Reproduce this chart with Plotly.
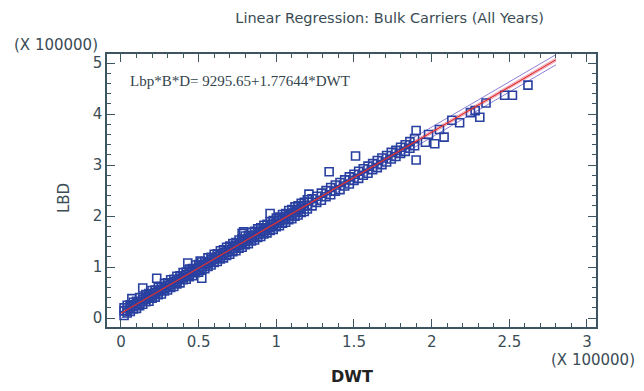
import plotly.graph_objects as go

# values in units of 100000
dwt = [
    0.02, 0.02, 0.02, 0.04, 0.04, 0.04, 0.06, 0.06, 0.06, 0.08, 0.08, 0.08,
    0.10, 0.10, 0.10, 0.12, 0.12, 0.12, 0.14, 0.14, 0.14, 0.16, 0.16, 0.16,
    0.18, 0.18, 0.18, 0.20, 0.20, 0.20, 0.22, 0.22, 0.22, 0.24, 0.24, 0.24,
    0.26, 0.26, 0.26, 0.28, 0.28, 0.28, 0.30, 0.30, 0.30, 0.32, 0.32, 0.32,
    0.34, 0.34, 0.34, 0.36, 0.36, 0.36, 0.38, 0.38, 0.38, 0.40, 0.40, 0.40,
    0.42, 0.42, 0.42, 0.44, 0.44, 0.44, 0.46, 0.46, 0.46, 0.48, 0.48, 0.48,
    0.50, 0.50, 0.50, 0.52, 0.52, 0.52, 0.54, 0.54, 0.54, 0.56, 0.56, 0.56,
    0.58, 0.58, 0.58, 0.60, 0.60, 0.60, 0.62, 0.62, 0.62, 0.64, 0.64, 0.64,
    0.66, 0.66, 0.66, 0.68, 0.68, 0.68, 0.70, 0.70, 0.70, 0.72, 0.72, 0.72,
    0.74, 0.74, 0.74, 0.76, 0.76, 0.76, 0.78, 0.78, 0.78, 0.80, 0.80, 0.80,
    0.82, 0.82, 0.82, 0.84, 0.84, 0.84, 0.86, 0.86, 0.86, 0.88, 0.88, 0.88,
    0.90, 0.90, 0.90, 0.92, 0.92, 0.92, 0.94, 0.94, 0.94, 0.96, 0.96, 0.96,
    0.98, 0.98, 0.98, 1.00, 1.00, 1.00, 1.02, 1.02, 1.02, 1.04, 1.04, 1.04,
    1.06, 1.06, 1.06, 1.08, 1.08, 1.08, 1.10, 1.10, 1.10, 1.12, 1.12, 1.12,
    1.14, 1.14, 1.14, 1.16, 1.16, 1.16, 1.18, 1.18, 1.18, 1.20, 1.20, 1.20,
    1.23, 1.23, 1.26, 1.26, 1.29, 1.29, 1.32, 1.32, 1.35, 1.35, 1.38, 1.38,
    1.41, 1.41, 1.44, 1.44, 1.47, 1.47, 1.50, 1.50, 1.53, 1.53, 1.56, 1.56,
    1.59, 1.59, 1.62, 1.62, 1.65, 1.65, 1.68, 1.68, 1.71, 1.71, 1.74, 1.74,
    1.77, 1.77, 1.80, 1.80, 1.83, 1.83, 1.86, 1.86, 1.89, 1.89,
    0.07, 0.14, 0.23, 0.52, 0.43, 0.51, 0.78, 0.96, 0.79, 1.21, 1.34, 1.51,
    1.90, 1.90, 1.96, 2.02, 2.08, 2.13, 2.18, 2.25, 2.28, 2.31, 2.35, 2.47,
    2.52, 2.62, 1.98, 2.05,
]
lbd = [
    0.05, 0.14, 0.20, 0.10, 0.15, 0.25, 0.13, 0.22, 0.26, 0.18, 0.23, 0.31,
    0.19, 0.28, 0.33, 0.24, 0.29, 0.40, 0.27, 0.36, 0.40, 0.32, 0.37, 0.46,
    0.33, 0.42, 0.48, 0.39, 0.44, 0.54, 0.41, 0.50, 0.55, 0.46, 0.51, 0.60,
    0.47, 0.56, 0.62, 0.53, 0.58, 0.68, 0.55, 0.64, 0.69, 0.60, 0.65, 0.75,
    0.62, 0.71, 0.76, 0.67, 0.72, 0.82, 0.69, 0.78, 0.83, 0.75, 0.79, 0.89,
    0.76, 0.85, 0.90, 0.81, 0.86, 0.96, 0.83, 0.92, 0.97, 0.89, 0.93, 1.04,
    0.90, 0.99, 1.05, 0.95, 1.00, 1.10, 0.97, 1.06, 1.11, 1.01, 1.07, 1.18,
    1.04, 1.14, 1.19, 1.09, 1.15, 1.25, 1.11, 1.21, 1.26, 1.16, 1.22, 1.32,
    1.18, 1.28, 1.34, 1.23, 1.29, 1.39, 1.25, 1.35, 1.41, 1.30, 1.36, 1.46,
    1.32, 1.42, 1.48, 1.37, 1.43, 1.53, 1.39, 1.49, 1.55, 1.44, 1.50, 1.61,
    1.46, 1.56, 1.62, 1.51, 1.57, 1.68, 1.53, 1.63, 1.70, 1.58, 1.64, 1.75,
    1.60, 1.70, 1.77, 1.65, 1.71, 1.82, 1.67, 1.77, 1.84, 1.72, 1.78, 1.89,
    1.74, 1.84, 1.91, 1.79, 1.85, 1.96, 1.81, 1.92, 1.98, 1.86, 1.93, 2.03,
    1.88, 1.99, 2.05, 1.93, 2.00, 2.11, 1.95, 2.06, 2.13, 2.00, 2.07, 2.18,
    2.02, 2.13, 2.20, 2.07, 2.14, 2.25, 2.09, 2.20, 2.27, 2.14, 2.21, 2.32,
    2.20, 2.34, 2.27, 2.39, 2.31, 2.45, 2.38, 2.50, 2.42, 2.56, 2.49, 2.61,
    2.52, 2.66, 2.59, 2.71, 2.63, 2.77, 2.70, 2.82, 2.74, 2.88, 2.80, 2.93,
    2.84, 2.98, 2.91, 3.03, 2.95, 3.09, 3.01, 3.14, 3.06, 3.19, 3.12, 3.25,
    3.17, 3.29, 3.23, 3.35, 3.27, 3.40, 3.33, 3.46, 3.38, 3.52,
    0.38, 0.59, 0.78, 0.78, 1.08, 1.12, 1.66, 2.05, 1.69, 2.43, 2.87, 3.18,
    3.68, 3.10, 3.45, 3.42, 3.55, 3.88, 3.83, 4.03, 4.07, 3.94, 4.22, 4.37,
    4.37, 4.57, 3.60, 3.70,
]

# fitted model: Lbp*B*D = 9295.65 + 1.77644*DWT
intercept = 9295.65 / 100000
slope = 1.77644
fit_x = [0.0, 2.8]
fit_y = [intercept + slope * v for v in fit_x]
conf_half = 0.03
pred_half = 0.10

axis_col = "#3d5560"
text_col = "#3a4c55"

fig = go.Figure()
for off, col in [(pred_half, "#8c7fd6"), (-pred_half, "#8c7fd6"),
                 (conf_half, "#f0a0b8"), (-conf_half, "#f0a0b8")]:
    fig.add_trace(go.Scatter(x=fit_x, y=[v + off for v in fit_y], mode="lines",
                             line=dict(color=col, width=1), showlegend=False))

fig.add_trace(go.Scatter(x=dwt, y=lbd, mode="markers",
                         marker=dict(symbol="square-open", size=8,
                                     color="#2940a0", line=dict(width=1.6)),
                         showlegend=False))

fig.add_trace(go.Scatter(x=fit_x, y=fit_y, mode="lines",
                         line=dict(color="#e03030", width=1.2),
                         showlegend=False))

# page body adds an 8px margin, so the figure is 8px smaller and shifted
fig.update_layout(
    width=636, height=383,
    margin=dict(l=99, r=48, t=46, b=64),
    paper_bgcolor="white", plot_bgcolor="white",
    font=dict(family="DejaVu Sans", color=text_col, size=15),
    title=dict(text="Linear Regression: Bulk Carriers (All Years)",
               x=0.60, xanchor="center", y=0.974, yanchor="middle",
               font=dict(size=14.5, color=text_col)),
    xaxis=dict(range=[-0.09, 3.058], tickvals=[0, 0.5, 1, 1.5, 2, 2.5, 3],
               ticktext=["0", "0.5", "1", "1.5", "2", "2.5", "3"],
               showgrid=False, zeroline=False, showline=True, linecolor=axis_col,
               linewidth=1.5, mirror="ticks", ticks="inside", ticklen=8,
               tickcolor=axis_col, tickwidth=1.2,
               minor=dict(dtick=0.1, tick0=0, ticks="inside", ticklen=4,
                          tickcolor=axis_col, showgrid=False)),
    yaxis=dict(range=[-0.176, 5.18], tickvals=[0, 1, 2, 3, 4, 5],
               showgrid=False, zeroline=False, showline=True, linecolor=axis_col,
               linewidth=1.5, mirror="ticks", ticks="inside", ticklen=8,
               tickcolor=axis_col, tickwidth=1.2,
               minor=dict(dtick=0.2, tick0=0, ticks="inside", ticklen=4,
                          tickcolor=axis_col, showgrid=False)),
)

fig.add_annotation(text="Lbp*B*D= 9295.65+1.77644*DWT", xref="paper", yref="paper",
                   x=0.043, y=0.90, xanchor="left", yanchor="middle", showarrow=False,
                   font=dict(family="Liberation Serif", size=15, color="#33444c"))
fig.add_annotation(text="(X 100000)", xref="paper", yref="paper",
                   x=-0.014, y=1.033, xanchor="right", yanchor="middle", showarrow=False,
                   font=dict(size=15, color=text_col))
fig.add_annotation(text="(X 100000)", xref="paper", yref="paper",
                   x=1.084, y=-0.121, xanchor="right", yanchor="middle", showarrow=False,
                   font=dict(size=15, color=text_col))
fig.add_annotation(text="LBD", xref="paper", yref="paper",
                   x=-0.11, y=0.473, textangle=-90, showarrow=False,
                   font=dict(size=15, color=text_col))
fig.add_annotation(text="<b>DWT</b>", xref="paper", yref="paper",
                   x=0.5, y=-0.225, showarrow=False,
                   font=dict(size=16, color="#222"))

fig.write_html("out.html")
